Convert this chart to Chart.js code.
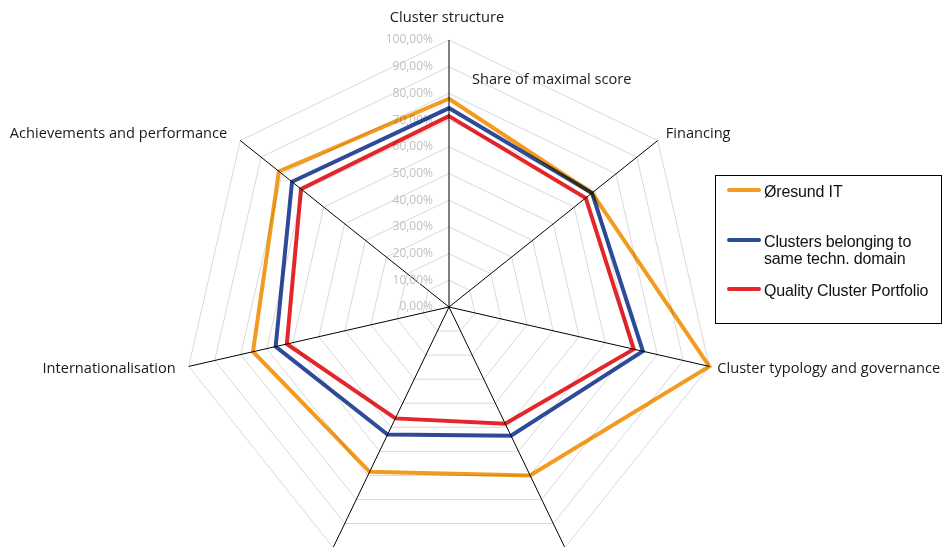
<!DOCTYPE html>
<html>
<head>
<meta charset="utf-8">
<script src="https://cdn.jsdelivr.net/npm/chart.js@4/dist/chart.umd.min.js"></script>
<style>
    html, body { margin: 0; padding: 0; background: #fff; overflow: hidden; }
    .wrap { position: relative; width: 946px; height: 547px; overflow: hidden; }
    #radar { position: absolute; left: 0; top: 0; }
    .legend {
        position: absolute; left: 715px; top: 175px; width: 227px; height: 149px;
        border: 1px solid #000; box-sizing: border-box;
        font-family: "Liberation Sans", Arial, sans-serif; font-size: 16px; letter-spacing: -0.15px; color: #111;
    }
    .legend .item { position: absolute; left: 11px; display: flex; align-items: flex-start; line-height: 17px; white-space: nowrap; }
    .legend .swatch { width: 34px; height: 4px; border-radius: 2px; margin-top: 5px; margin-right: 3px; flex: none; }
</style>
</head>
<body>
<div class="wrap">
    <canvas id="radar" width="946" height="700"></canvas>
    <div class="legend">
        <div class="item" style="top:7px"><span class="swatch" style="background:#f39b1f"></span><span>Øresund IT</span></div>
        <div class="item" style="top:57px"><span class="swatch" style="background:#2e4a9a"></span><span>Clusters belonging to<br>same techn. domain</span></div>
        <div class="item" style="top:106px"><span class="swatch" style="background:#e4262b"></span><span>Quality Cluster Portfolio</span></div>
    </div>
</div>
<script>
// dimensions (the two lower ones fall below the visible area)
const dimensions = ['Cluster structure', 'Financing', 'Cluster typology and governance', '', '', 'Internationalisation', 'Achievements and performance'];

const oresundIT = [0.78, 0.685, 1.00, 0.70, 0.685, 0.753, 0.815];
const sameDomain = [0.745, 0.685, 0.745, 0.535, 0.53, 0.666, 0.752];
const qualityPortfolio = [0.715, 0.655, 0.71, 0.485, 0.463, 0.623, 0.709];

const tickValues = [0, 0.1, 0.2, 0.3, 0.4, 0.5, 0.6, 0.7, 0.8, 0.9, 1.0];

const labelFont = '14.6px "Open Sans", "Noto Sans", sans-serif';

function formatPercent(v) {
    return (v * 100).toFixed(2).replace('.', ',') + '%';
}

// tick values left of the vertical axis, axis names and chart caption
const annotations = {
    id: 'annotations',
    beforeDatasetsDraw(chart) {
        const ctx = chart.ctx;
        const scale = chart.scales.r;
        ctx.save();
        ctx.font = '12px "Open Sans", "Noto Sans", sans-serif';
        ctx.fillStyle = '#c0c0c0';
        ctx.textAlign = 'right';
        ctx.textBaseline = 'middle';
        tickValues.forEach(v => {
            const y = scale.yCenter - scale.getDistanceFromCenterForValue(v);
            ctx.fillText(formatPercent(v), scale.xCenter - 16, y);
        });

        ctx.font = labelFont;
        ctx.fillStyle = '#1a1a1a';
        dimensions.forEach((name, i) => {
            if (!name) return;
            const p = scale.getPointPosition(i, scale.drawingArea);
            const ux = (p.x - scale.xCenter) / scale.drawingArea;
            const uy = (scale.yCenter - p.y) / scale.drawingArea;
            if (i === 0) {
                ctx.textAlign = 'center';
                ctx.fillText(name, p.x - 2, p.y - 22);
            } else if (ux > 0) {
                ctx.textAlign = 'left';
                ctx.fillText(name, p.x + 8, p.y - 11 * uy);
            } else {
                ctx.textAlign = 'right';
                ctx.fillText(name, p.x - 13, p.y - 11 * uy);
            }
        });

        ctx.textAlign = 'left';
        ctx.fillText('Share of maximal score', 472, 80);
        ctx.restore();
    },
    // series lines are blended where they cross each other
    beforeDatasetDraw(chart) {
        chart.ctx.save();
        chart.ctx.globalCompositeOperation = 'multiply';
    },
    afterDatasetDraw(chart) {
        chart.ctx.restore();
    }
};

function series(label, data, color) {
    return {
        label: label,
        data: data,
        borderColor: color,
        backgroundColor: color,
        borderWidth: 4,
        fill: false,
        pointRadius: 0,
        pointHoverRadius: 0,
        tension: 0
    };
}

new Chart(document.getElementById('radar'), {
    type: 'radar',
    data: {
        labels: dimensions,
        datasets: [
            series('Øresund IT', oresundIT, '#f39b1f'),
            series('Clusters belonging to same techn. domain', sameDomain, '#2e4a9a'),
            series('Quality Cluster Portfolio', qualityPortfolio, '#e4262b')
        ]
    },
    options: {
        responsive: false,
        animation: false,
        layout: { padding: { left: 182, right: 230, top: 40, bottom: 126 } },
        plugins: {
            legend: { display: false },
            tooltip: { enabled: false }
        },
        scales: {
            r: {
                min: 0,
                max: 1,
                ticks: { stepSize: 0.1, display: false, showLabelBackdrop: false },
                grid: { color: '#d9d9d9', lineWidth: 1 },
                angleLines: { color: '#000', lineWidth: 1 },
                pointLabels: { display: false }
            }
        }
    },
    plugins: [annotations]
});
</script>
</body>
</html>
